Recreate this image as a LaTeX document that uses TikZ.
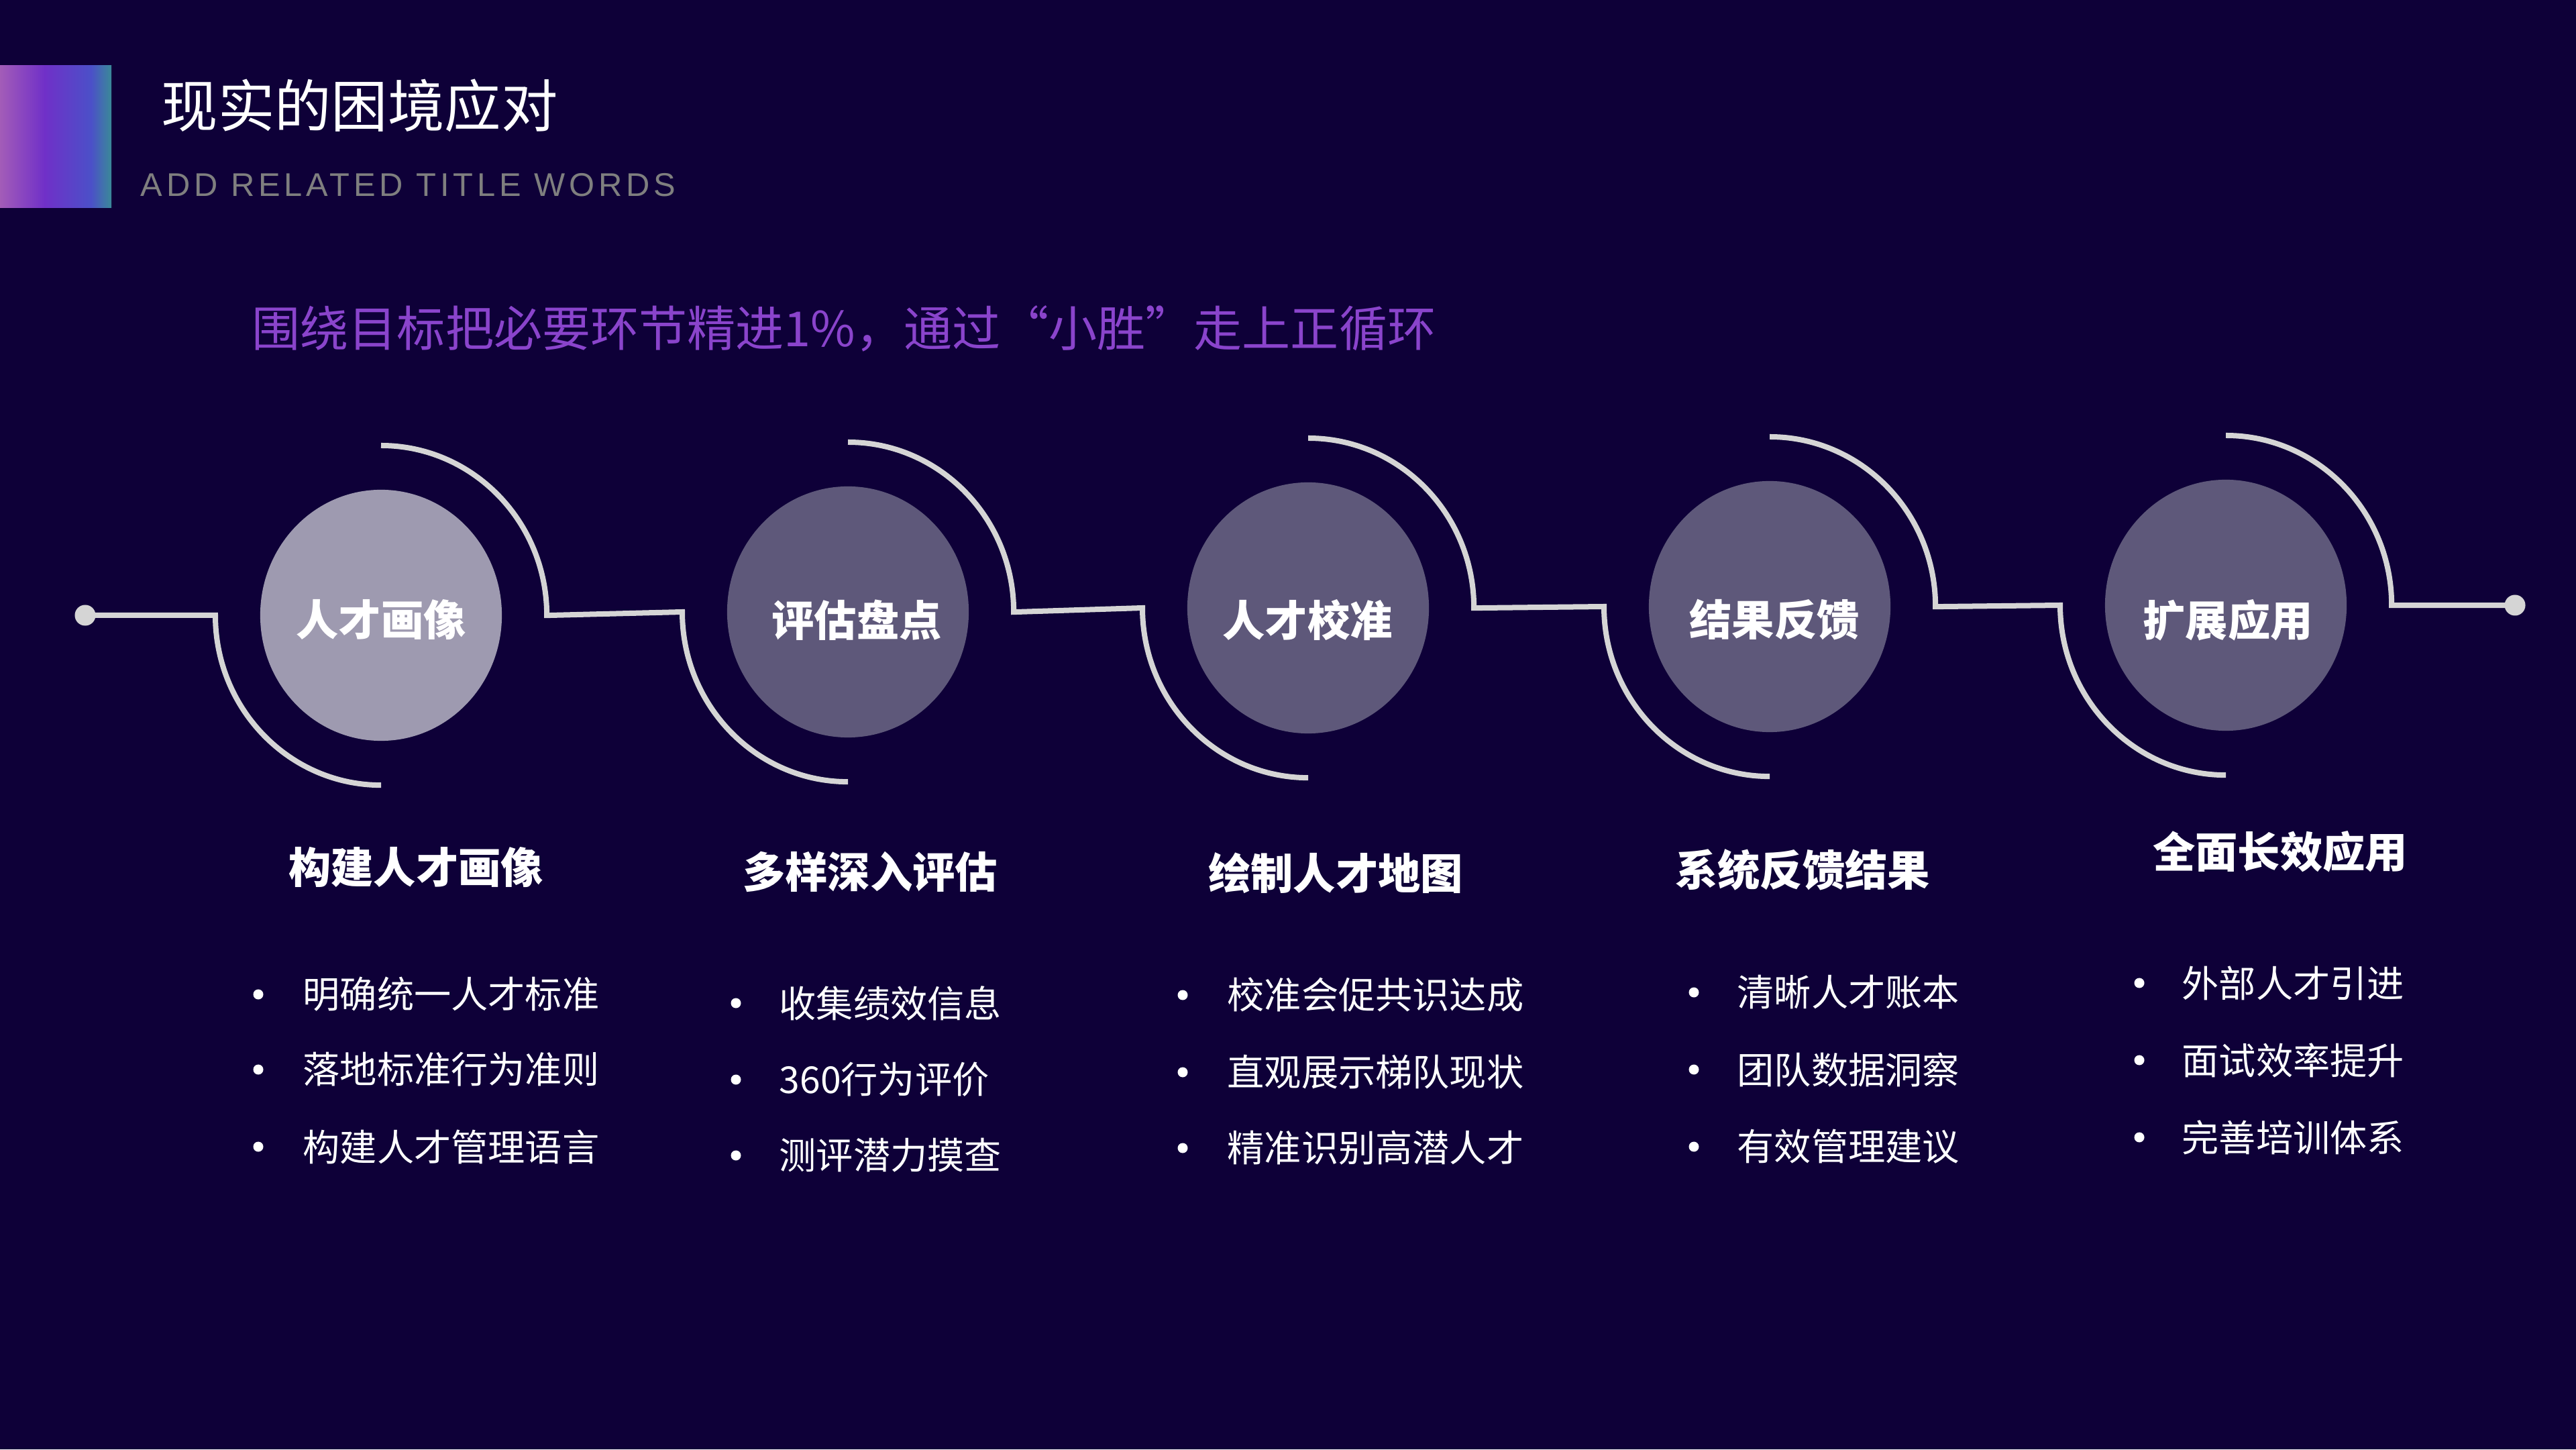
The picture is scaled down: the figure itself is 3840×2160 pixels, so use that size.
\documentclass[tikz,border=0pt]{standalone}
\usepackage{fontspec}
\setmainfont{Noto Sans CJK SC}
\newfontfamily\addfont[LetterSpace=12]{Liberation Sans}
\usetikzlibrary{shapes.geometric,calc}
\definecolor{bg}{HTML}{0E0038}
\definecolor{linec}{HTML}{D5D5D5}
\definecolor{bubA}{HTML}{9E9AB0}
\definecolor{bubB}{HTML}{5E587A}
\definecolor{purp}{HTML}{8A44CC}
\definecolor{greyt}{HTML}{7F7F7F}
\definecolor{g1}{HTML}{A35CB8}
\definecolor{g2}{HTML}{7030C8}
\definecolor{g3}{HTML}{4B50C8}
\definecolor{g4}{HTML}{3A8A98}
\pgfdeclarehorizontalshading{barshade}{100bp}{color(0bp)=(g1); color(25bp)=(g1); color(45bp)=(g2); color(66bp)=(g3); color(75bp)=(g4); color(100bp)=(g4)}
\tikzset{
  conn/.style={draw=linec, line width=0.08cm},
  bubble/.style={ellipse, minimum width=3.6cm, minimum height=3.74cm, inner sep=0pt, fill=bubB},
  bubtxt/.style={text=white, inner sep=0pt, font=\bfseries\fontsize{18}{20}\selectfont},
  headtxt/.style={text=white, inner sep=0pt, font=\bfseries\fontsize{18}{20}\selectfont},
  itemtxt/.style={text=white, anchor=west, inner sep=0pt, font=\fontsize{15.7}{18}\selectfont},
  bulletdot/.style={circle, fill=white, minimum size=0.15cm, inner sep=0pt},
  enddot/.style={circle, fill=linec, minimum size=0.31cm, inner sep=0pt},
}
\begin{document}
\begin{tikzpicture}[x=0.01cm,y=0.01cm]
\fill[bg] (0,0) rectangle (3840,2160);
\useasboundingbox (0,0) rectangle (3840,2160);
% header
\shade[shading=barshade] (0,1850) rectangle (166,2062);
\node[anchor=west, inner sep=0pt, text=white, font=\fontsize{24}{28}\selectfont] (title) at (240,2003) {现实的困境应对};
\node[anchor=west, inner sep=0pt, text=greyt, font=\addfont\fontsize{13.9}{16}\selectfont] (sub) at (209,1884) {ADD RELATED TITLE WORDS};
\node[anchor=west, inner sep=0pt, text=purp, font=\fontsize{20.5}{24}\selectfont] (slogan) at (375,1670) {围绕目标把必要环节精进1\%，通过“小胜”走上正循环};
% bubbles
\node[bubble, fill=bubA] (c1) at (568,1243) {};
\node[bubble] (c2) at (1264,1248) {};
\node[bubble] (c3) at (1950,1254) {};
\node[bubble] (c4) at (2638,1256) {};
\node[bubble] (c5) at (3318,1258) {};
\node[bubtxt] (l1) at (568,1236) {人才画像};
\node[bubtxt] (l2) at (1277,1236) {评估盘点};
\node[bubtxt] (l3) at (1949,1236) {人才校准};
\node[bubtxt] (l4) at (2645,1236) {结果反馈};
\node[bubtxt] (l5) at (3321,1236) {扩展应用};
% end dots
\node[enddot] (dl) at (127,1243) {};
\node[enddot] (dr) at (3749,1258) {};
% connectors
\draw[conn] (dl.center) -- ($(c1)+(-247,0)$) arc[start angle=180, end angle=270, x radius=2.47cm, y radius=2.53cm];
\draw[conn] ($(c1)+(0,253)$) arc[start angle=90, end angle=0, x radius=2.47cm, y radius=2.53cm] -- ($(c2)+(-247,0)$) arc[start angle=180, end angle=270, x radius=2.47cm, y radius=2.53cm];
\draw[conn] ($(c2)+(0,253)$) arc[start angle=90, end angle=0, x radius=2.47cm, y radius=2.53cm] -- ($(c3)+(-247,0)$) arc[start angle=180, end angle=270, x radius=2.47cm, y radius=2.53cm];
\draw[conn] ($(c3)+(0,253)$) arc[start angle=90, end angle=0, x radius=2.47cm, y radius=2.53cm] -- ($(c4)+(-247,0)$) arc[start angle=180, end angle=270, x radius=2.47cm, y radius=2.53cm];
\draw[conn] ($(c4)+(0,253)$) arc[start angle=90, end angle=0, x radius=2.47cm, y radius=2.53cm] -- ($(c5)+(-247,0)$) arc[start angle=180, end angle=270, x radius=2.47cm, y radius=2.53cm];
\draw[conn] ($(c5)+(0,253)$) arc[start angle=90, end angle=0, x radius=2.47cm, y radius=2.53cm] -- (dr.center);
% headings
\node[headtxt] (h1) at (620,867) {构建人才画像};
\node[headtxt] (h2) at (1297,861) {多样深入评估};
\node[headtxt] (h3) at (1991,859) {绘制人才地图};
\node[headtxt] (h4) at (2687,864) {系统反馈结果};
\node[headtxt] (h5) at (3399,891) {全面长效应用};
% column 1
\node[bulletdot] (b11) at (385,678) {};
\node[bulletdot] (b12) at (385,566) {};
\node[bulletdot] (b13) at (385,451) {};
\node[itemtxt] (t11) at (451,678) {明确统一人才标准};
\node[itemtxt] (t12) at (451,566) {落地标准行为准则};
\node[itemtxt] (t13) at (451,451) {构建人才管理语言};
% column 2
\node[bulletdot] (b21) at (1097,665) {};
\node[bulletdot] (b22) at (1097,551) {};
\node[bulletdot] (b23) at (1097,438) {};
\node[itemtxt] (t21) at (1161,665) {收集绩效信息};
\node[itemtxt] (t22) at (1161,551) {360行为评价};
\node[itemtxt] (t23) at (1161,438) {测评潜力摸查};
% column 3
\node[bulletdot] (b31) at (1763,677) {};
\node[bulletdot] (b32) at (1763,562) {};
\node[bulletdot] (b33) at (1763,449) {};
\node[itemtxt] (t31) at (1829,677) {校准会促共识达成};
\node[itemtxt] (t32) at (1829,562) {直观展示梯队现状};
\node[itemtxt] (t33) at (1829,449) {精准识别高潜人才};
% column 4
\node[bulletdot] (b41) at (2525,681) {};
\node[bulletdot] (b42) at (2525,566) {};
\node[bulletdot] (b43) at (2525,451) {};
\node[itemtxt] (t41) at (2589,681) {清晰人才账本};
\node[itemtxt] (t42) at (2589,566) {团队数据洞察};
\node[itemtxt] (t43) at (2589,451) {有效管理建议};
% column 5
\node[bulletdot] (b51) at (3189,695) {};
\node[bulletdot] (b52) at (3189,580) {};
\node[bulletdot] (b53) at (3189,465) {};
\node[itemtxt] (t51) at (3252,695) {外部人才引进};
\node[itemtxt] (t52) at (3252,580) {面试效率提升};
\node[itemtxt] (t53) at (3252,465) {完善培训体系};
\end{tikzpicture}
\end{document}
